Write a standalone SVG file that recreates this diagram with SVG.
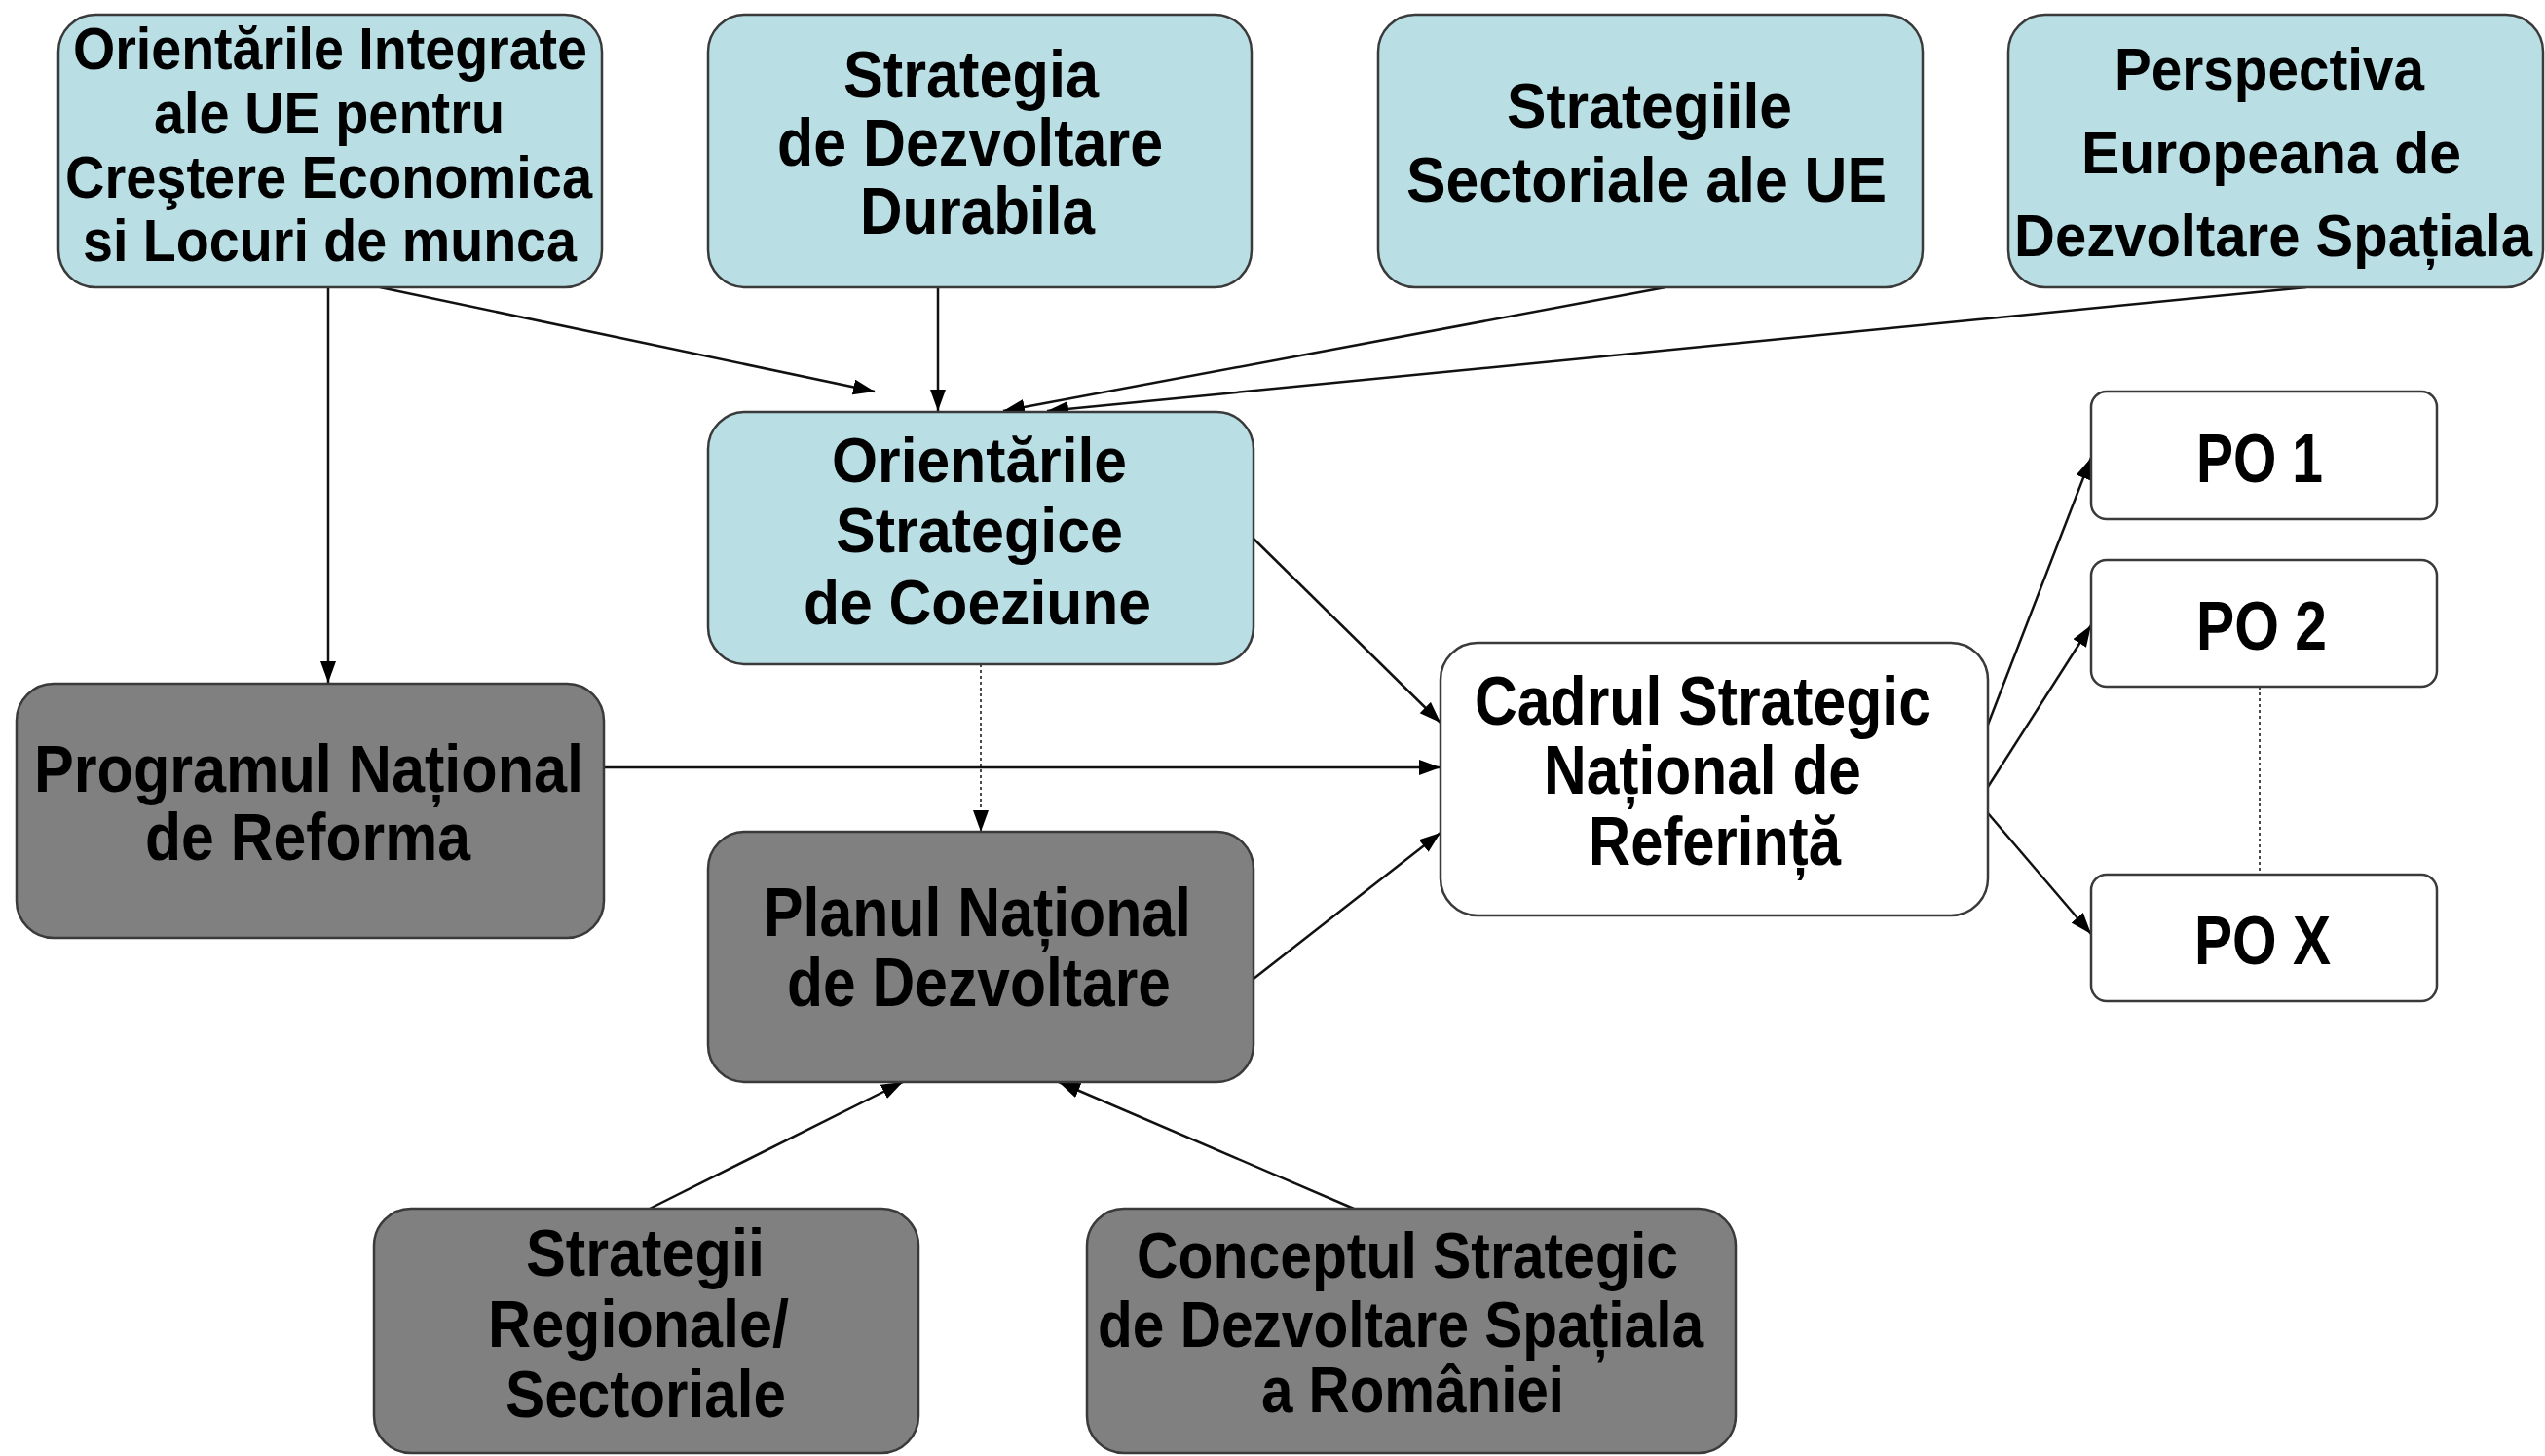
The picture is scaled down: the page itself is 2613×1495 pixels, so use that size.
<svg xmlns="http://www.w3.org/2000/svg" width="2613" height="1495" viewBox="0 0 2613 1495">
<style>
.blue{fill:#B9DFE4;stroke:#3a3a3a;stroke-width:2.5}
.gray{fill:#808080;stroke:#3a3a3a;stroke-width:2.5}
.white{fill:#ffffff;stroke:#3a3a3a;stroke-width:2.5}
text{font-family:"Liberation Sans",Arial,sans-serif;font-weight:bold;fill:#000}
.c line{stroke:#111;stroke-width:2.5;fill:none}
.c line.dot{stroke-width:1.5;stroke-dasharray:3 3}
</style>
<defs>
<marker id="ah" markerUnits="userSpaceOnUse" markerWidth="24" markerHeight="18" refX="22" refY="8" orient="auto">
<path d="M0,0 L22,8 L0,16 z" fill="#000"/>
</marker>
</defs>
<rect width="2613" height="1495" fill="#fff"/>
<g id="connectors" class="c">
<line x1="337" y1="295" x2="337" y2="701" marker-end="url(#ah)"/>
<line x1="390" y1="295" x2="898" y2="402" marker-end="url(#ah)"/>
<line x1="963" y1="295" x2="963" y2="422" marker-end="url(#ah)"/>
<line x1="1710" y1="295" x2="1030" y2="422" marker-end="url(#ah)"/>
<line x1="2368" y1="295" x2="1075" y2="422" marker-end="url(#ah)"/>
<line x1="1287" y1="553" x2="1479" y2="742" marker-end="url(#ah)"/>
<line x1="620" y1="788" x2="1479" y2="788" marker-end="url(#ah)"/>
<line class="dot" x1="1007" y1="682" x2="1007" y2="854" marker-end="url(#ah)"/>
<line x1="1287" y1="1005" x2="1479" y2="855" marker-end="url(#ah)"/>
<line x1="2041" y1="744" x2="2147" y2="470" marker-end="url(#ah)"/>
<line x1="2041" y1="808" x2="2147" y2="642" marker-end="url(#ah)"/>
<line x1="2041" y1="835" x2="2147" y2="959" marker-end="url(#ah)"/>
<line class="dot" x1="2320" y1="705" x2="2320" y2="898"/>
<line x1="667" y1="1241" x2="927" y2="1111" marker-end="url(#ah)"/>
<line x1="1390" y1="1241" x2="1087" y2="1111" marker-end="url(#ah)"/>
</g>
<g id="n1">
<rect class="blue" x="60" y="15" width="558" height="280" rx="38"/>
<text font-size="62"><tspan x="75" y="71" textLength="528" lengthAdjust="spacingAndGlyphs">Orientările Integrate</tspan><tspan x="158" y="137" textLength="360" lengthAdjust="spacingAndGlyphs">ale UE pentru</tspan><tspan x="67" y="203" textLength="541" lengthAdjust="spacingAndGlyphs">Creştere Economica</tspan><tspan x="85" y="268" textLength="507" lengthAdjust="spacingAndGlyphs">si Locuri de munca</tspan></text>
</g>
<g id="n2">
<rect class="blue" x="727" y="15" width="558" height="280" rx="38"/>
<text font-size="68"><tspan x="866" y="100" textLength="262" lengthAdjust="spacingAndGlyphs">Strategia</tspan><tspan x="798" y="170" textLength="396" lengthAdjust="spacingAndGlyphs">de Dezvoltare</tspan><tspan x="883" y="240" textLength="241" lengthAdjust="spacingAndGlyphs">Durabila</tspan></text>
</g>
<g id="n3">
<rect class="blue" x="1415" y="15" width="559" height="280" rx="38"/>
<text font-size="64"><tspan x="1547" y="131" textLength="293" lengthAdjust="spacingAndGlyphs">Strategiile</tspan><tspan x="1444" y="207" textLength="493" lengthAdjust="spacingAndGlyphs">Sectoriale ale UE</tspan></text>
</g>
<g id="n4">
<rect class="blue" x="2062" y="15" width="549" height="280" rx="38"/>
<text font-size="62"><tspan x="2171" y="92" textLength="318" lengthAdjust="spacingAndGlyphs">Perspectiva</tspan><tspan x="2137" y="178" textLength="390" lengthAdjust="spacingAndGlyphs">Europeana de</tspan><tspan x="2068" y="263" textLength="532" lengthAdjust="spacingAndGlyphs">Dezvoltare Spațiala</tspan></text>
</g>
<g id="n5">
<rect class="blue" x="727" y="423" width="560" height="259" rx="38"/>
<text font-size="64"><tspan x="854" y="495" textLength="303" lengthAdjust="spacingAndGlyphs">Orientările</tspan><tspan x="858" y="567" textLength="295" lengthAdjust="spacingAndGlyphs">Strategice</tspan><tspan x="825" y="641" textLength="357" lengthAdjust="spacingAndGlyphs">de Coeziune</tspan></text>
</g>
<g id="n6">
<rect class="gray" x="17" y="702" width="603" height="261" rx="38"/>
<text font-size="68"><tspan x="35" y="813" textLength="564" lengthAdjust="spacingAndGlyphs">Programul Național</tspan><tspan x="149" y="883" textLength="334" lengthAdjust="spacingAndGlyphs">de Reforma</tspan></text>
</g>
<g id="n7">
<rect class="gray" x="727" y="854" width="560" height="257" rx="38"/>
<text font-size="70"><tspan x="784" y="961" textLength="439" lengthAdjust="spacingAndGlyphs">Planul Național</tspan><tspan x="808" y="1033" textLength="394" lengthAdjust="spacingAndGlyphs">de Dezvoltare</tspan></text>
</g>
<g id="n8">
<rect class="white" x="1479" y="660" width="562" height="280" rx="38"/>
<text font-size="70"><tspan x="1514" y="744" textLength="469" lengthAdjust="spacingAndGlyphs">Cadrul Strategic</tspan><tspan x="1585" y="815" textLength="326" lengthAdjust="spacingAndGlyphs">Național de</tspan><tspan x="1631" y="888" textLength="259" lengthAdjust="spacingAndGlyphs">Referință</tspan></text>
</g>
<g id="n9">
<rect class="white" x="2147" y="402" width="355" height="131" rx="16"/>
<text font-size="70" x="2255" y="495" textLength="130" lengthAdjust="spacingAndGlyphs">PO 1</text>
</g>
<g id="n10">
<rect class="white" x="2147" y="575" width="355" height="130" rx="16"/>
<text font-size="70" x="2255" y="667" textLength="134" lengthAdjust="spacingAndGlyphs">PO 2</text>
</g>
<g id="n11">
<rect class="white" x="2147" y="898" width="355" height="130" rx="16"/>
<text font-size="70" x="2253" y="990" textLength="140" lengthAdjust="spacingAndGlyphs">PO X</text>
</g>
<g id="n12">
<rect class="gray" x="384" y="1241" width="559" height="251" rx="38"/>
<text font-size="68"><tspan x="540" y="1310" textLength="245" lengthAdjust="spacingAndGlyphs">Strategii</tspan><tspan x="501" y="1383" textLength="309" lengthAdjust="spacingAndGlyphs">Regionale/</tspan><tspan x="519" y="1455" textLength="288" lengthAdjust="spacingAndGlyphs">Sectoriale</tspan></text>
</g>
<g id="n13">
<rect class="gray" x="1116" y="1241" width="666" height="251" rx="38"/>
<text font-size="66"><tspan x="1167" y="1312" textLength="556" lengthAdjust="spacingAndGlyphs">Conceptul Strategic</tspan><tspan x="1127" y="1383" textLength="622" lengthAdjust="spacingAndGlyphs">de Dezvoltare Spațiala</tspan><tspan x="1295" y="1450" textLength="311" lengthAdjust="spacingAndGlyphs">a României</tspan></text>
</g>
</svg>
